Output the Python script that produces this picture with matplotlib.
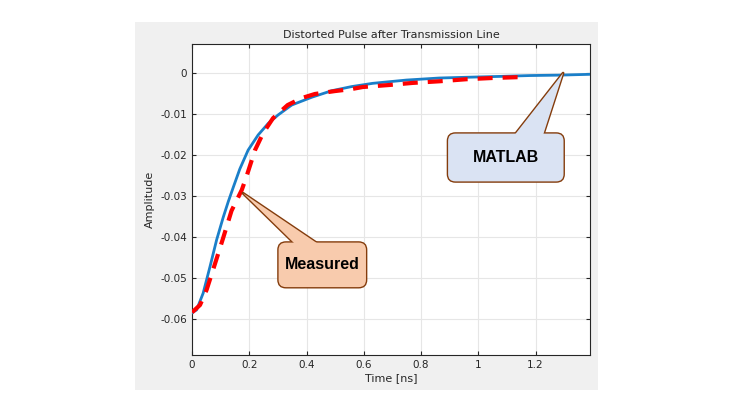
import matplotlib
matplotlib.use("Agg")
import matplotlib.pyplot as plt
from matplotlib.patches import Rectangle, FancyBboxPatch

# Data
t_meas = [0.0, 0.028, 0.051, 0.080, 0.109, 0.138, 0.174, 0.190, 0.220, 0.248, 0.283, 0.334,
          0.383, 0.429, 0.498, 0.557, 0.596, 0.69, 0.77, 0.864, 0.958, 1.049, 1.136, 1.16]
a_meas = [-0.0584, -0.0566, -0.0529, -0.0466, -0.0402, -0.0336, -0.0285, -0.0253, -0.0188,
          -0.0147, -0.0110, -0.0078, -0.0061, -0.0051, -0.0044, -0.0039, -0.0034, -0.0029,
          -0.0024, -0.0020, -0.0015, -0.0012, -0.0010, -0.0010]

t_sim = [0.0, 0.016, 0.039, 0.063, 0.086, 0.109, 0.127, 0.144, 0.167, 0.196, 0.231, 0.266,
         0.301, 0.348, 0.418, 0.488, 0.557, 0.631, 0.749, 0.864, 0.969, 1.08, 1.18, 1.28, 1.39]
a_sim = [-0.0585, -0.0578, -0.0537, -0.0472, -0.0407, -0.0352, -0.0313, -0.0279, -0.0234,
         -0.0188, -0.0151, -0.0123, -0.0102, -0.0078, -0.0059, -0.0043, -0.0033, -0.0025,
         -0.0017, -0.0012, -0.0010, -0.0008, -0.0006, -0.0005, -0.0003]

xticks = [0, 0.2, 0.4, 0.6, 0.8, 1, 1.2]
xtick_labels = ["0", "0.2", "0.4", "0.6", "0.8", "1", "1.2"]
yticks = [0, -0.01, -0.02, -0.03, -0.04, -0.05, -0.06]
ytick_labels = ["0", "-0.01", "-0.02", "-0.03", "-0.04", "-0.05", "-0.06"]

fig = plt.figure(figsize=(7.4, 4.16), dpi=100)
fig.patches.append(Rectangle((135/740, 1-390/416), (598-135)/740, (390-22)/416,
                             transform=fig.transFigure, facecolor="#f0f0f0",
                             edgecolor="none", zorder=-10))
ax = fig.add_axes([192/740, 1-355/416, (590-192)/740, (355-44)/416])
ax.set_zorder(5)
ax.set_facecolor("white")

ax.plot(t_sim, a_sim, color="#1a7fc9", lw=2.0, zorder=3, solid_joinstyle="round")
ax.plot(t_meas, a_meas, color="#ff0000", lw=3.0, ls=(0, (3.6, 2.4)), zorder=4)

ax.set_xlim(0, 1.39)
ax.set_ylim(-0.0688, 0.0071)
ax.set_xticks(xticks)
ax.set_xticklabels(xtick_labels)
ax.set_yticks(yticks)
ax.set_yticklabels(ytick_labels)
ax.grid(True, color="#e6e6e6", lw=0.8)
ax.set_axisbelow(True)
ax.tick_params(direction="in", length=3, labelsize=7.5, colors="#262626",
               top=True, right=True)
for s in ax.spines.values():
    s.set_color("#262626")
    s.set_linewidth(0.8)

ax.set_title("Distorted Pulse after Transmission Line", fontsize=8, color="#262626", pad=4)
ax.set_xlabel("Time [ns]", fontsize=8, color="#262626", labelpad=2)
ax.set_ylabel("Amplitude", fontsize=8, color="#262626", labelpad=4)

EC = "#843c0c"

# Callouts: rounded boxes + wedge pointers
def callout(text, tip, base, box, fc, tw):
    x0, x1, y0, y1 = box
    rect = FancyBboxPatch((x0, y0), x1 - x0, y1 - y0,
                          boxstyle="round,pad=0,rounding_size=0.028", mutation_aspect=0.07,
                          fc=fc, ec=EC, lw=1.0, zorder=7)
    ax.add_patch(rect)
    src = (tip[0] + 1.5 * (base[0] - tip[0]), tip[1] + 1.5 * (base[1] - tip[1]))
    style = "wedge,tail_width=%g,shrink_factor=0.5" % tw
    # outlined wedge under the box
    ax.annotate("", xy=tip, xytext=src, zorder=6,
                arrowprops=dict(arrowstyle=style, fc=fc, ec=EC, lw=2.0,
                                shrinkA=0, shrinkB=0, patchA=None, mutation_scale=10))
    # fill-only wedge over the box to open the box edge at the base
    ax.annotate("", xy=tip, xytext=src, zorder=7.5,
                arrowprops=dict(arrowstyle=style, fc=fc, ec="none", lw=0,
                                shrinkA=0, shrinkB=0, patchA=None, mutation_scale=10))
    ax.text((x0 + x1) / 2, (y0 + y1) / 2, text, fontsize=11.5, fontweight="bold",
            family="Liberation Sans", ha="center", va="center", color="black", zorder=8)

callout("Measured", (0.178, -0.0293), (0.387, -0.0412),
        (0.300, 0.610, -0.0524, -0.0412), "#f8cbad", 1.5)
callout("MATLAB", (1.296, 0.0), (1.185, -0.0146),
        (0.892, 1.300, -0.0266, -0.0146), "#dae3f3", 2.6)

fig.savefig("out.png", dpi=100, facecolor="white")
